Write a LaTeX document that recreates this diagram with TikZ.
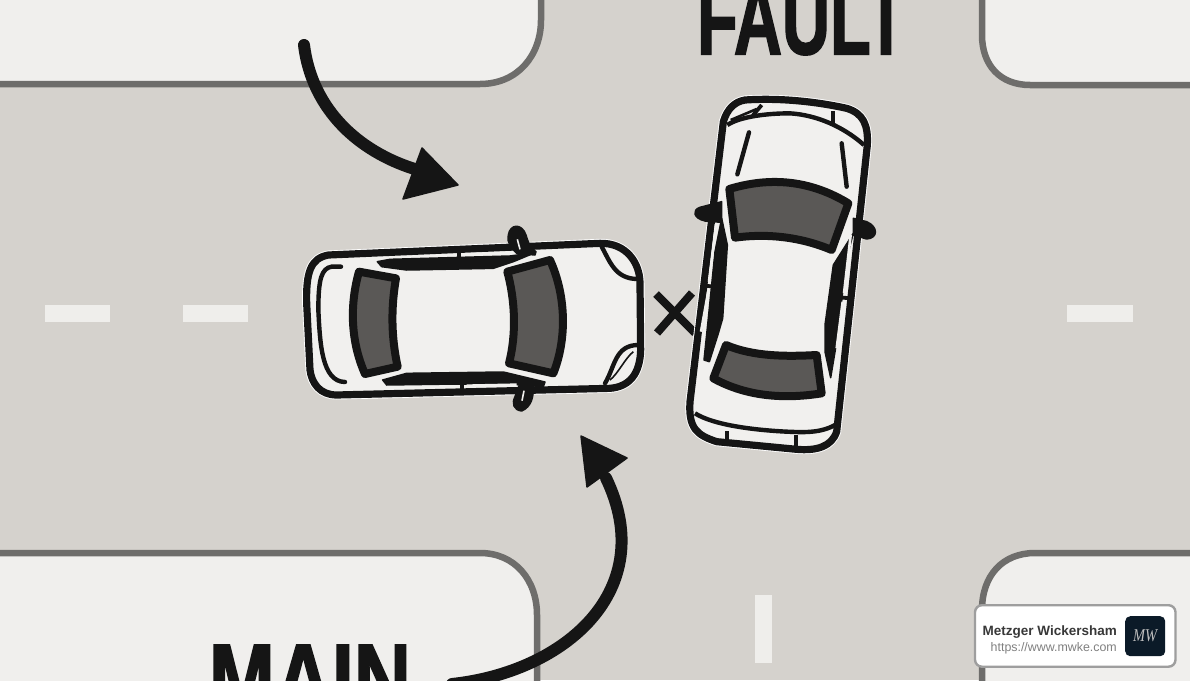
\documentclass[tikz,border=0pt]{standalone}
\usepackage{fontspec}
\setmainfont{Liberation Sans}
\newfontfamily\logofont{Liberation Serif}
\newfontfamily\bigfont[BoldFeatures={FakeBold=2}]{Liberation Sans}
\definecolor{roadc}{HTML}{D5D2CD}
\definecolor{blockc}{HTML}{F0EFED}
\definecolor{kerbc}{HTML}{6E6D6B}
\definecolor{inkc}{HTML}{151515}
\definecolor{glassc}{HTML}{5A5856}
\definecolor{carc}{HTML}{F1F0EE}
\definecolor{dashc}{HTML}{EFEEEB}
\definecolor{logoc}{HTML}{0B1A28}
\tikzset{
  block/.style={fill=blockc,draw=kerbc,line width=6.5pt},
  lanedash/.style={fill=dashc,draw=none},
  halo/.style={draw=white,line width=9pt,line join=round},
  carbody/.style={draw=inkc,fill=carc,line width=7.2pt,line join=round},
  glass/.style={draw=inkc,fill=glassc,line width=8pt,line join=round},
  trim/.style={draw=inkc,line width=4.4pt,line cap=round},
  solid ink/.style={fill=inkc,draw=inkc,line width=1.5pt,line join=round},
  shaft/.style={draw=inkc,line width=12pt,line cap=round},
  headtip/.style={fill=inkc,draw=inkc,line width=1.5pt,line join=round},
  crash/.style={draw=inkc,line width=8pt},
  slit/.style={draw=carc,line width=2.6pt},
  bigword/.style={inner sep=0pt,outer sep=0pt,text=inkc,font=\bigfont\fontsize{100pt}{100pt}\selectfont\bfseries},
}
\begin{document}
\begin{tikzpicture}[x=1pt,y=-1pt]
\clip (0,0) rectangle (1190,680);
\fill[roadc] (0,0) rectangle (1190,680);
% kerbed blocks
\path[block] (-10,-10) -- (-10,84) -- (480,84) .. controls (518,84) and (541,55) .. (541,20) -- (541,-10) -- cycle;
\path[block] (1200,-10) -- (1200,85) -- (1030,85) .. controls (1000,85) and (982,65) .. (982,35) -- (982,-10) -- cycle;
\path[block] (-10,690) -- (-10,553) -- (480,553) .. controls (515,553) and (537,580) .. (537,615) -- (537,690) -- cycle;
\path[block] (1200,690) -- (1200,553) -- (1035,553) .. controls (1003,553) and (982,575) .. (982,610) -- (982,690) -- cycle;
% lane dashes
\fill[lanedash] (45,305) rectangle (110,322);
\fill[lanedash] (183,305) rectangle (248,322);
\fill[lanedash] (1067,305) rectangle (1133,322);
\fill[lanedash] (755,595) rectangle (772,663);
% words
\node[bigword,anchor=base west] (fault) at (697,54) {\scalebox{0.665}[1]{FAULT}};
\node[bigword,anchor=base west] (main) at (209,714) {\scalebox{0.79}[1]{MAIN}};
% arrows
\coordinate (a1s) at (304,45);
\coordinate (a1e) at (425,172);
\draw[shaft] (a1s) .. controls (312,110) and (360,155) .. (a1e);
\path[headtip] (458,185) -- (403,199) -- (422,148) -- cycle;
\coordinate (a2s) at (452,684);
\coordinate (a2e) at (606,478);
\draw[shaft] (a2s) .. controls (565,672) and (660,590) .. (a2e);
\path[headtip] (581,436) -- (627,458) -- (587,487) -- cycle;
% car 1
\begin{scope}[shift={(290,210)},x=0.33333pt,y=-0.33333pt]
\path[halo] (115,135) -- (930,100) .. controls (1010,98) and (1050,160) .. (1050,220) -- (1052,420) .. controls (1050,490) and (1020,530) .. (960,535) -- (140,555) .. controls (90,555) and (65,520) .. (60,480) -- (50,280) .. controls (48,190) and (60,145) .. (115,135) -- cycle;
\path[carbody] (115,135) -- (930,100) .. controls (1010,98) and (1050,160) .. (1050,220) -- (1052,420) .. controls (1050,490) and (1020,530) .. (960,535) -- (140,555) .. controls (90,555) and (65,520) .. (60,480) -- (50,280) .. controls (48,190) and (60,145) .. (115,135) -- cycle;
\draw[trim] (153,170) -- (125,170) .. controls (95,175) and (85,205) .. (85,300) .. controls (90,400) and (95,515) .. (165,516);
\path[glass] (207,185) -- (318,205) .. controls (303,290) and (303,380) .. (323,470) -- (225,492) .. controls (180,390) and (180,280) .. (207,185) -- cycle;
\path[glass] (652,185) -- (780,150) .. controls (830,260) and (830,390) .. (790,490) -- (657,460) .. controls (680,370) and (675,270) .. (652,185) -- cycle;
% side strips
\path[solid ink] (262,155) -- (300,148) -- (660,138) -- (735,128) -- (670,155) -- (610,175) -- (350,180) -- (275,170) -- cycle;
\path[solid ink] (278,510) -- (350,490) -- (640,486) -- (765,516) -- (760,530) -- (680,524) -- (500,522) -- (290,525) -- cycle;
\draw[inkc,line width=4pt] (508,118) -- (508,150);
\draw[inkc,line width=4pt] (515,518) -- (515,548);
\draw[slit] (525,133) -- (660,129);
\draw[slit] (530,527) -- (680,524);
% mirrors
\path[solid ink] (655,75) .. controls (660,42) and (695,38) .. (708,75) .. controls (715,100) and (725,120) .. (738,125) -- (735,135) -- (680,130) .. controls (665,115) and (650,100) .. (655,75) -- cycle;
\draw[carc,line width=1.6pt] (682,88) -- (690,118);
\path[solid ink] (690,520) -- (730,520) .. controls (732,560) and (725,590) .. (695,603) .. controls (670,600) and (665,580) .. (675,560) -- cycle;
\draw[carc,line width=1.6pt] (702,542) -- (696,572);
% lamps
\draw[trim] (935,110) .. controls (960,155) and (975,205) .. (1040,207);
\draw[trim] (945,520) .. controls (975,470) and (975,405) .. (1045,405);
\draw[inkc,line width=1.6pt] (960,510) .. controls (985,490) and (1005,445) .. (1030,425);
\end{scope}
% crash mark
\coordinate (xa) at (656,294);
\coordinate (xb) at (695,333);
\coordinate (xc) at (692,293);
\coordinate (xd) at (657,333);
\draw[crash] (xa) -- (xb);
\draw[crash] (xc) -- (xd);
% car 2
\begin{scope}[shift={(640,85)},x=0.33333pt,y=-0.33333pt]
\path[halo] (315,45) .. controls (420,38) and (530,50) .. (620,70) .. controls (670,85) and (685,120) .. (682,180) -- (590,1040) .. controls (575,1085) and (530,1098) .. (470,1093) -- (230,1070) .. controls (170,1050) and (145,1030) .. (150,950) -- (250,110) .. controls (262,70) and (285,50) .. (315,45) -- cycle;
\path[carbody] (315,45) .. controls (420,38) and (530,50) .. (620,70) .. controls (670,85) and (685,120) .. (682,180) -- (590,1040) .. controls (575,1085) and (530,1098) .. (470,1093) -- (230,1070) .. controls (170,1050) and (145,1030) .. (150,950) -- (250,110) .. controls (262,70) and (285,50) .. (315,45) -- cycle;
% top bumper
\draw[trim,line cap=butt] (262,120) .. controls (300,95) and (380,85) .. (450,85) .. controls (530,90) and (610,125) .. (672,180);
\draw[inkc,line width=3.8pt] (365,60) -- (338,92);
\draw[inkc,line width=3.8pt] (578,78) -- (578,120);
\draw[inkc,line width=2.6pt] (272,105) -- (350,72);
\draw[trim] (327,142) -- (292,268);
\draw[trim] (605,175) -- (620,305);
\path[glass] (268,312) .. controls (390,275) and (510,285) .. (625,355) -- (575,495) .. controls (480,455) and (380,445) .. (285,458) -- cycle;
\path[glass] (258,780) .. controls (340,815) and (440,815) .. (530,810) -- (545,925) .. controls (420,945) and (310,930) .. (220,880) -- cycle;
% side strips
\path[solid ink] (245,400) -- (262,480) -- (248,700) -- (235,745) -- (208,830) -- (192,825) -- (205,700) -- (225,500) -- cycle;
\path[solid ink] (640,445) -- (620,520) -- (600,690) -- (590,770) -- (572,878) -- (555,800) -- (555,720) -- (580,540) -- cycle;
\draw[slit] (228,418) -- (207,590);
\draw[slit] (205,618) -- (183,740);
\draw[slit] (632,450) -- (612,625);
\draw[slit] (608,650) -- (590,790);
\draw[inkc,line width=3.8pt] (185,600) -- (225,606);
\draw[inkc,line width=3.8pt] (605,638) -- (640,640);
% mirrors
\path[solid ink] (245,350) -- (245,412) -- (195,408) .. controls (160,400) and (155,375) .. (180,367) -- cycle;
\path[solid ink] (640,400) -- (680,410) .. controls (715,425) and (715,460) .. (680,462) -- (640,450) -- cycle;
% tail bumper
\draw[trim,line cap=butt] (165,985) .. controls (220,1020) and (340,1035) .. (440,1040) .. controls (490,1042) and (540,1045) .. (585,1020);
\draw[inkc,line width=3.8pt] (262,1038) -- (262,1080);
\draw[inkc,line width=3.8pt] (468,1050) -- (468,1088);
\end{scope}
% badge
\node[draw=black!38,fill=white,line width=2.4pt,rounded corners=7pt,minimum width=200.5pt,minimum height=61.5pt,anchor=north west,inner sep=0pt,outer sep=0pt] (badge) at (975,605.2) {};
\node[anchor=base east,inner sep=0pt,text=black!78,font=\fontsize{13.5pt}{15pt}\selectfont\bfseries] (bname) at (1117,635) {Metzger Wickersham};
\node[anchor=base east,inner sep=0pt,text=black!50,font=\fontsize{12.4pt}{15pt}\selectfont] (burl) at (1117,651) {https://www.mwke.com};
\node[fill=logoc,rounded corners=5pt,minimum size=40pt,inner sep=0pt,anchor=north west] (blogo) at (1125,616) {};
\node[inner sep=0pt,text=black!25,font=\logofont\itshape\fontsize{18pt}{18pt}\selectfont] (blogotext) at (blogo.center) {\scalebox{0.8}[1]{MW}};
\end{tikzpicture}
\end{document}
